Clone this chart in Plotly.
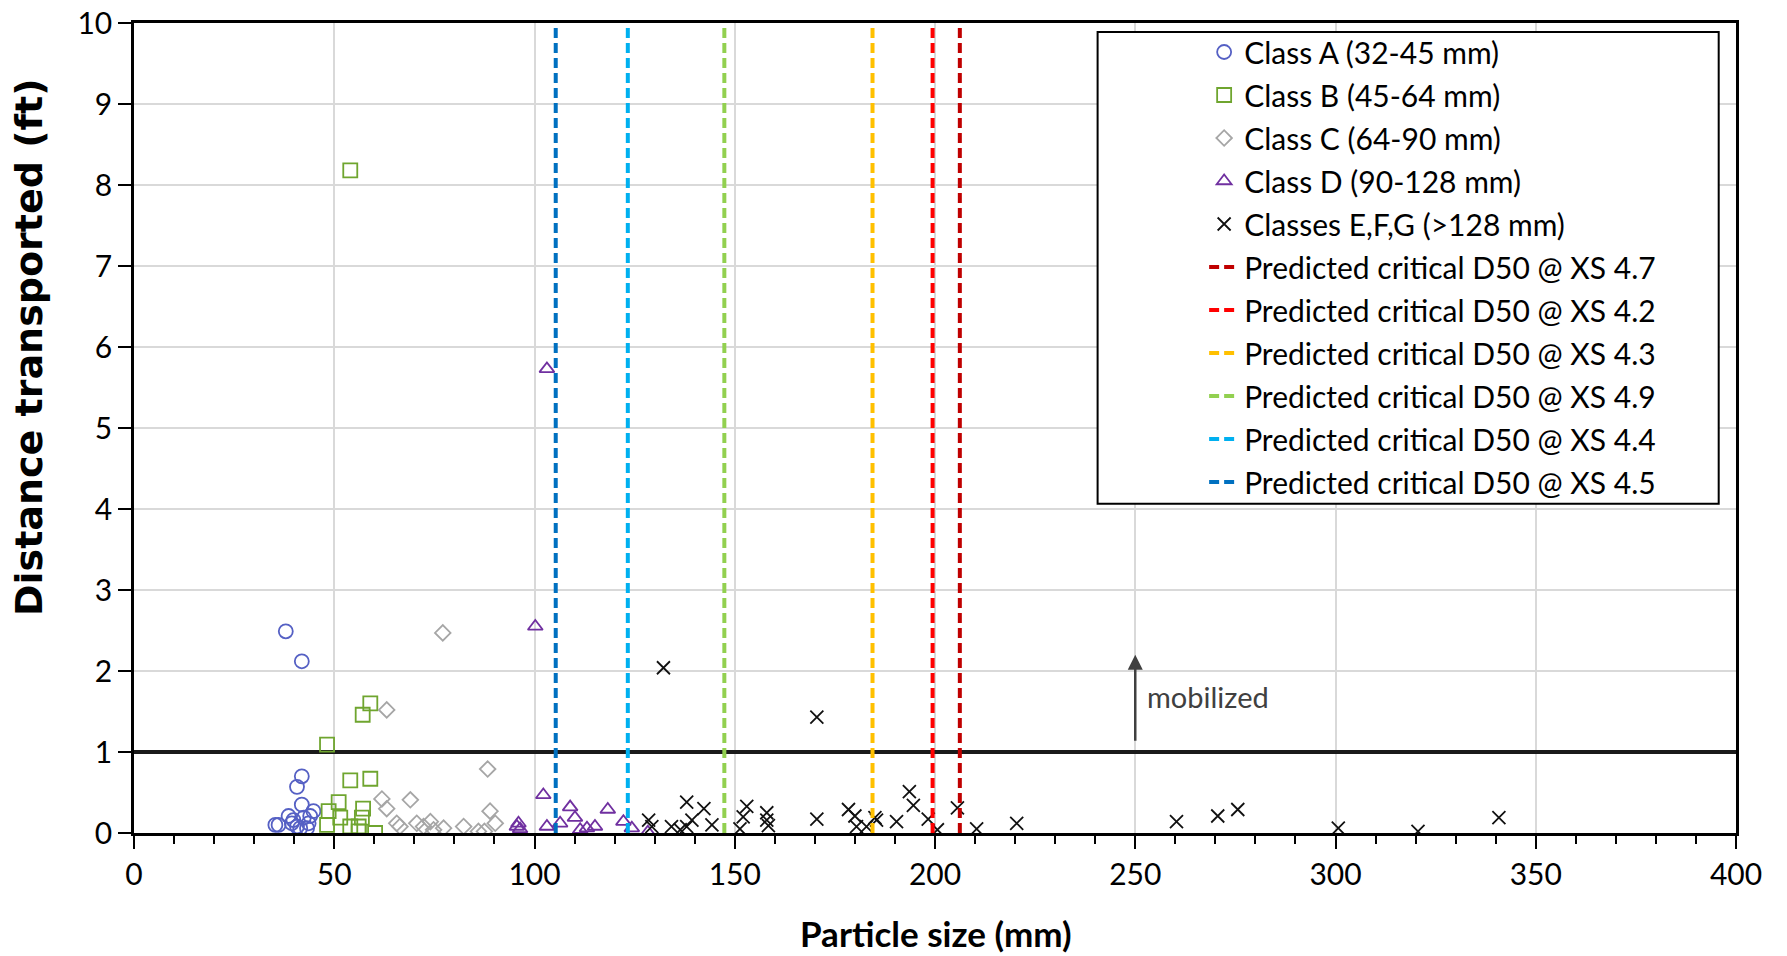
import plotly.graph_objects as go

# ---------------- data ----------------
a_x = [37.9, 41.9, 41.9, 40.7, 41.9, 35.3, 36.1, 38.6, 39.8, 40.7, 42.4, 43.2, 44.0, 44.8, 43.6, 39.4, 41.5]
a_y = [2.49, 2.12, 0.70, 0.57, 0.35, 0.10, 0.10, 0.21, 0.16, 0.08, 0.19, 0.06, 0.21, 0.27, 0.12, 0.12, 0.06]

b_x = [54.0, 59.0, 57.1, 48.2, 54.0, 59.0, 51.1, 48.6, 48.2, 51.5, 57.2, 56.9, 56.1, 56.1, 60.2, 54.0]
b_y = [8.18, 1.60, 1.46, 1.09, 0.65, 0.67, 0.38, 0.27, 0.10, 0.19, 0.30, 0.19, 0.08, 0.02, 0.00, 0.08]

c_x = [77.1, 63.1, 88.3, 61.9, 63.1, 69.0, 65.6, 70.6, 72.3, 74.0, 77.3, 82.3, 86.0, 88.9, 90.2, 66.4, 74.8, 87.5]
c_y = [2.47, 1.52, 0.79, 0.42, 0.30, 0.41, 0.12, 0.12, 0.08, 0.14, 0.06, 0.08, 0.02, 0.27, 0.12, 0.08, 0.04, 0.02]

d_x = [103.1, 100.2, 102.2, 95.6, 96.0, 96.4, 103.1, 106.4, 108.9, 110.1, 111.4, 113.1, 115.1, 118.3, 122.2, 124.3, 128.3]
d_y = [5.73, 2.55, 0.47, 0.08, 0.12, 0.05, 0.08, 0.12, 0.32, 0.19, 0.04, 0.06, 0.08, 0.29, 0.14, 0.06, 0.01]

e_x = [132.2, 170.5, 128.5, 129.3, 134.2, 136.4, 138.0, 138.0, 139.3, 142.3, 144.3, 151.3, 152.1, 153.0,
       158.0, 158.0, 158.4, 170.5, 178.4, 180.0, 180.4, 182.9, 185.0, 185.4, 190.4, 193.6, 194.6, 198.3,
       200.6, 205.6, 210.4, 220.4, 260.3, 270.6, 275.6, 300.7, 320.6, 340.8]
e_y = [2.04, 1.43, 0.16, 0.08, 0.08, 0.04, 0.38, 0.08, 0.16, 0.30, 0.10, 0.05, 0.20, 0.33,
       0.25, 0.16, 0.09, 0.17, 0.29, 0.21, 0.08, 0.08, 0.19, 0.16, 0.14, 0.51, 0.34, 0.17,
       0.04, 0.31, 0.05, 0.12, 0.14, 0.21, 0.29, 0.06, 0.02, 0.19]

crit_names = ["Predicted critical D50 @ XS 4.7", "Predicted critical D50 @ XS 4.2",
              "Predicted critical D50 @ XS 4.3", "Predicted critical D50 @ XS 4.9",
              "Predicted critical D50 @ XS 4.4", "Predicted critical D50 @ XS 4.5"]
crit_d50 = [206.2, 199.4, 184.4, 147.4, 123.3, 105.3]
crit_colors = ["#C00000", "#FF0000", "#FFC000", "#92D050", "#00B0F0", "#0070C0"]

threshold = 1.0
arrow_x, arrow_y0, arrow_y1 = 250, 1.12, 2.2

FONT = "Lato"

fig = go.Figure()

# threshold line
fig.add_trace(go.Scatter(x=[0, 400], y=[threshold, threshold], mode="lines",
                         line=dict(color="#1a1a1a", width=4), showlegend=False, hoverinfo="skip"))

classes = [
    ("Class A (32-45 mm)", a_x, a_y, "circle-open", "#5560C4", 14),
    ("Class B (45-64 mm)", b_x, b_y, "square-open", "#6FA52F", 14),
    ("Class C (64-90 mm)", c_x, c_y, "diamond-open", "#A6A6A6", 12),
    ("Class D (90-128 mm)", d_x, d_y, "triangle-up-open", "#7030A0", 13),
    ("Classes E,F,G (>128 mm)", e_x, e_y, "x-thin-open", "#111111", 13),
]
for i, (nm, xs, ys, sym, col, sz) in enumerate(classes):
    fig.add_trace(go.Scatter(x=xs, y=ys, mode="markers", name=nm, legendgroup=f"g{i}",
                             marker=dict(symbol=sym, size=sz, color=col,
                                         line=dict(color=col, width=1.8))))

for j, (nm, v, col) in enumerate(zip(crit_names, crit_d50, crit_colors)):
    fig.add_trace(go.Scatter(x=[v, v], y=[0, 10], mode="lines", name=nm, legendgroup=f"c{j}",
                             line=dict(color=col, width=4, dash="10px,5px")))

fig.add_annotation(x=arrow_x, y=arrow_y1, ax=arrow_x, ay=arrow_y0, xref="x", yref="y",
                   axref="x", ayref="y", text="", showarrow=True, arrowhead=2, arrowsize=1.2,
                   arrowwidth=2.5, arrowcolor="#404040")
fig.add_annotation(x=arrow_x + 2.5, y=1.68, xref="x", yref="y", text="mobilized",
                   showarrow=False, xanchor="left", yanchor="middle",
                   font=dict(family=FONT, size=29, color="#404040"))

# axis titles
fig.add_annotation(x=0.5007, y=-0.124, xref="paper", yref="paper", text="<b>Particle size (mm)</b>",
                   showarrow=False, xanchor="center", yanchor="middle",
                   font=dict(family=FONT, size=35, color="black"))
fig.add_annotation(x=0, y=0.600, xref="paper", yref="paper", xshift=-105,
                   text="<b>Distance transported (ft)</b>", textangle=-90,
                   showarrow=False, xanchor="center", yanchor="middle",
                   font=dict(family="DejaVu Sans", size=38, color="black"))

# legend box
fig.add_shape(type="rect", xref="paper", yref="paper", x0=0.6015, x1=0.9892, y0=0.4066, y1=0.989,
              line=dict(color="black", width=2), fillcolor="white", layer="above")

fig.update_layout(
    width=1787, height=956,
    margin=dict(l=134, r=51, t=23, b=123, autoexpand=False),
    plot_bgcolor="white", paper_bgcolor="white",
    font=dict(family=FONT, size=28, color="black"),
    legend=dict(x=0.668, xanchor="left", y=0.9963, yanchor="top", bgcolor="rgba(0,0,0,0)",
                borderwidth=0, tracegroupgap=1, font=dict(family=FONT, size=30, color="black")),
    xaxis=dict(range=[0, 400], dtick=50, showgrid=True, gridcolor="#d9d9d9", gridwidth=1.5,
               showline=True, linecolor="black", linewidth=2.5, mirror=True, zeroline=False,
               ticks="outside", ticklen=13, tickwidth=2, tickcolor="black", automargin=False,
               minor=dict(dtick=10, ticks="outside", ticklen=8, tickwidth=2, tickcolor="black", showgrid=False),
               tickfont=dict(family=FONT, size=30)),
    yaxis=dict(range=[0, 10], dtick=1, showgrid=True, gridcolor="#d9d9d9", gridwidth=1.5,
               showline=True, linecolor="black", linewidth=2.5, mirror=True, zeroline=False,
               ticks="outside", ticklen=13, tickwidth=2, tickcolor="black", automargin=False,
               tickfont=dict(family=FONT, size=30)),
)

fig.write_html("out.html")
